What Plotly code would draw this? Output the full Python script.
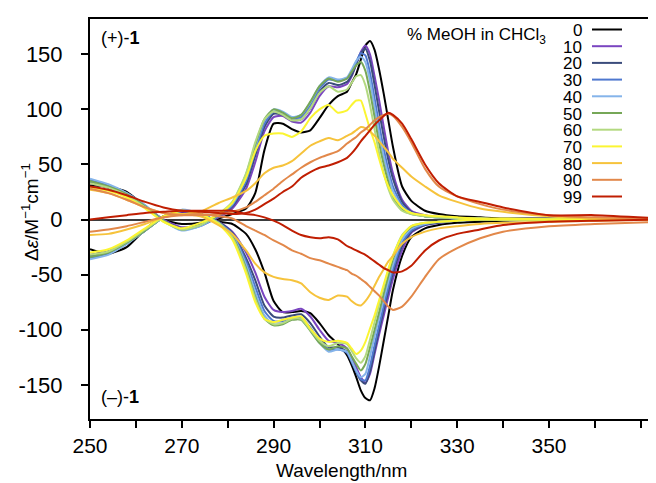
import plotly.graph_objects as go

# ---------------- data ----------------
wavelength = [250, 254, 258, 262, 266, 270, 274, 278, 281, 284, 286, 288, 290, 292, 294, 296, 298,
              300, 302, 304, 306, 307, 308, 309, 310, 311, 312, 313, 314, 315, 316, 318, 320,
              323, 326, 330, 335, 340, 350, 360, 374]

meoh_labels = ["0", "10", "20", "30", "40", "50", "60", "70", "80", "90", "99"]
meoh_colors = ["#000000", "#7a45c0", "#3b4c7c", "#4f78cf", "#85b4ea", "#76a757",
               "#b3d980", "#fbf532", "#f6c33c", "#e2884a", "#c01e02"]

# (+)-1 spectra
plus_0 = [31, 30, 25, 12, 0, -4, -3, 1, 5, 10, 24, 63, 87, 87, 82, 79, 81, 92, 104, 112,
          116, 124, 132, 145, 158, 162, 154, 136, 114, 90, 66, 30, 17, 8, 5, 3, 2, 1, 1, 0, 0]
plus_10 = [33, 29, 22, 12, 0, -7, -5, 2, 10, 28, 52, 80, 93, 94, 89, 88, 97, 112, 121, 120,
           123, 130, 141, 152, 158, 150, 130, 108, 84, 61, 42, 18, 8, 4, 2, 1, 1, 0, 0, 0, 0]
plus_20 = [34, 29, 22, 12, -1, -8, -5, 3, 12, 32, 58, 84, 96, 95, 90, 91, 101, 116, 124, 122,
           125, 131, 141, 151, 155, 144, 122, 98, 75, 54, 37, 16, 7, 3, 2, 1, 1, 0, 0, 0, 0]
plus_30 = [36, 31, 24, 13, -1, -9, -6, 3, 13, 35, 62, 87, 98, 97, 92, 93, 104, 119, 127, 126,
           128, 134, 143, 151, 149, 133, 110, 86, 64, 45, 30, 13, 6, 3, 2, 1, 1, 0, 0, 0, 0]
plus_40 = [37, 32, 24, 13, -1, -10, -6, 4, 14, 38, 66, 90, 100, 98, 93, 95, 106, 121, 129, 127,
           129, 136, 144, 148, 143, 126, 102, 78, 57, 40, 26, 11, 6, 3, 2, 1, 1, 0, 0, 0, 0]
plus_50 = [35, 30, 23, 12, -1, -9, -5, 4, 15, 41, 68, 91, 100, 97, 92, 95, 107, 121, 128, 125,
           128, 134, 140, 143, 135, 116, 93, 69, 50, 34, 20, 9, 5, 3, 2, 1, 1, 0, 0, 0, 0]
plus_60 = [33, 29, 22, 11, -2, -9, -5, 5, 16, 42, 70, 91, 98, 95, 90, 91, 101, 115, 121, 116,
           118, 124, 130, 131, 122, 104, 82, 60, 42, 28, 18, 8, 5, 3, 2, 1, 1, 0, 0, 0, 0]
plus_70 = [29, 26, 20, 10, -2, -8, -3, 5, 15, 38, 62, 76, 78, 78, 75, 80, 92, 100, 104, 97,
           99, 104, 108, 108, 96, 82, 70, 55, 41, 30, 22, 11, 6, 4, 3, 2, 1, 1, 0, 0, 0]
plus_80 = [27, 24, 18, 11, 6, 5, 7, 15, 20, 26, 33, 42, 47, 49, 53, 60, 67, 71, 74, 72,
           76, 78, 81, 84, 83, 80, 76, 71, 66, 61, 55, 47, 39, 30, 22, 16, 10, 7, 3, 1, 0]
plus_90 = [28, 24, 18, 11, 6, 4, 4, 5, 7, 11, 16, 22, 28, 35, 41, 47, 52, 56, 59, 62,
           69, 72, 75, 79, 82, 86, 90, 93, 95, 96, 94, 84, 70, 46, 30, 21, 14, 9, 4, 2, 1]
plus_99 = [30, 27, 22, 16, 11, 8, 7, 6, 5, 6, 9, 14, 19, 25, 30, 38, 43, 47, 49, 52,
           56, 60, 65, 71, 76, 81, 86, 90, 94, 97, 95, 87, 73, 50, 33, 21, 16, 11, 4, 4, 1]

# (-)-1 spectra
minus_0 = [-27, -31, -25, -9, 3, 6, 4, -2, -4, -13, -27, -48, -74, -84, -84, -83, -85, -94, -105, -113,
           -123, -132, -143, -155, -162, -164, -153, -133, -110, -87, -64, -33, -16, -8, -5, -3, -2, -1, 0, 0, 0]
minus_10 = [-32, -29, -21, -10, 2, 7, 5, -2, -11, -30, -48, -70, -82, -84, -83, -81, -88, -100, -110, -112,
            -117, -125, -134, -143, -148, -140, -122, -104, -87, -70, -54, -28, -12, -5, -3, -1, 0, 0, 0, 0, 0]
minus_20 = [-33, -29, -21, -10, 2, 8, 5, -2, -12, -35, -55, -78, -88, -89, -87, -86, -94, -106, -116, -116,
            -120, -128, -138, -146, -149, -138, -119, -100, -82, -65, -49, -24, -11, -5, -3, -1, 0, 0, 0, 0, 0]
minus_30 = [-35, -31, -22, -10, 2, 8, 5, -3, -13, -38, -61, -83, -92, -92, -89, -89, -98, -110, -118, -118,
            -121, -129, -138, -145, -146, -133, -114, -96, -78, -61, -45, -21, -10, -4, -2, -1, 0, 0, 0, 0, 0]
minus_40 = [-36, -32, -22, -10, 2, 9, 5, -3, -14, -41, -66, -87, -95, -94, -90, -90, -100, -112, -120, -118,
            -120, -128, -137, -143, -140, -124, -106, -89, -72, -56, -41, -18, -8, -4, -2, -1, 0, 0, 0, 0, 0]
minus_50 = [-34, -30, -21, -10, 2, 8, 5, -3, -15, -44, -70, -90, -96, -95, -91, -91, -101, -112, -118, -115,
            -117, -124, -131, -137, -131, -116, -100, -84, -67, -51, -36, -15, -7, -3, -2, -1, 0, 0, 0, 0, 0]
minus_60 = [-32, -29, -20, -9, 2, 8, 5, -3, -16, -46, -72, -90, -95, -94, -90, -90, -100, -110, -115, -112,
            -113, -119, -126, -130, -124, -109, -93, -77, -61, -46, -33, -14, -6, -3, -2, -1, 0, 0, 0, 0, 0]
minus_70 = [-30, -27, -19, -8, 3, 8, 5, -4, -18, -49, -75, -90, -93, -91, -89, -88, -99, -108, -111, -110,
            -112, -117, -122, -119, -111, -99, -87, -73, -59, -45, -33, -15, -6, -3, -2, -1, 0, 0, 0, 0, 0]
minus_80 = [-14, -13, -9, -4, 2, 5, 3, -5, -13, -28, -40, -48, -52, -54, -55, -58, -66, -71, -73, -69,
            -70, -74, -77, -78, -74, -68, -60, -52, -45, -38, -33, -22, -16, -11, -8, -6, -4, -3, -2, -1, 0]
minus_90 = [-11, -9, -6, -2, 2, 4, 5, 3, 1, -6, -10, -14, -19, -23, -28, -31, -35, -37, -40, -43,
            -46, -49, -51, -54, -57, -61, -65, -69, -74, -79, -82, -79, -70, -52, -36, -26, -17, -11, -6, -4, -2]
minus_99 = [0, 2, 4, 6, 7, 8, 8, 8, 8, 5, 4, 2, -1, -5, -10, -14, -16, -17, -16, -18,
            -24, -26, -28, -30, -32, -35, -38, -41, -44, -46, -48, -47, -42, -28, -19, -13, -9, -5, -2, -1, 0]

plus_series = [plus_0, plus_10, plus_20, plus_30, plus_40, plus_50, plus_60, plus_70, plus_80, plus_90, plus_99]
minus_series = [minus_0, minus_10, minus_20, minus_30, minus_40, minus_50, minus_60, minus_70, minus_80, minus_90, minus_99]

x_tick_vals = [250, 270, 290, 310, 330, 350]
x_tick_text = ["250", "270", "290", "310", "330", "350"]
y_tick_vals = [-150, -100, -50, 0, 50, 100, 150]
y_tick_text = ["-150", "-100", "-50", "0", "50", "100", "150"]

# ---------------- layout geometry ----------------
# The page body has an 8 px margin, so the figure is made 8 px smaller and all
# positions below are given in window pixels and shifted by that offset.
OFF = 8
W, H = 656 - OFF, 483 - OFF
ML, MR, MT, MB = 90 - OFF, 0, 19 - OFF, 64
PW, PH = W - ML - MR, H - MT - MB
FONT = "Liberation Sans, Arial, Helvetica, sans-serif"


def px(xp):
    return (xp - OFF - ML) / PW


def py(yp):
    return (H - MB - (yp - OFF)) / PH


fig = go.Figure()
for lab, col, yp, yn in zip(meoh_labels, meoh_colors, plus_series, minus_series):
    for ys in (yp, yn):
        fig.add_trace(go.Scatter(x=wavelength, y=ys, mode="lines", name=lab + "% MeOH",
                                 line=dict(color=col, width=2, shape="spline", smoothing=0.6),
                                 showlegend=False, hoverinfo="skip"))

annotations = [
    dict(text="(+)-<b>1</b>", x=px(99), y=py(38), xref="paper", yref="paper",
         xanchor="left", yanchor="middle", showarrow=False, font=dict(size=18, color="black")),
    dict(text="(–)-<b>1</b>", x=px(99), y=py(397), xref="paper", yref="paper",
         xanchor="left", yanchor="middle", showarrow=False, font=dict(size=18, color="black")),
    dict(text="% MeOH in CHCl<sub>3</sub>", x=px(405), y=py(36), xref="paper", yref="paper",
         xanchor="left", yanchor="middle", showarrow=False, font=dict(size=17, color="black")),
    dict(text="Wavelength/nm", x=px(341), y=py(470), xref="paper", yref="paper",
         xanchor="center", yanchor="middle", showarrow=False, font=dict(size=19, color="black")),
    dict(text="Δ<i>ε</i>/M<sup>−1</sup>cm<sup>−1</sup>", x=px(30), y=py(212), xref="paper", yref="paper",
         xanchor="center", yanchor="middle", textangle=-90, showarrow=False,
         font=dict(size=19, color="black")),
]
shapes = []
for i, (lab, col) in enumerate(zip(meoh_labels, meoh_colors)):
    yc = 29.5 + i * 16.7
    annotations.append(dict(text=lab, x=px(584), y=py(yc + 1), xref="paper", yref="paper",
                            xanchor="right", yanchor="middle", showarrow=False,
                            font=dict(size=17, color="black")))
    shapes.append(dict(type="line", xref="paper", yref="paper", x0=px(592), x1=px(622),
                       y0=py(yc), y1=py(yc), line=dict(color=col, width=2)))

fig.update_layout(
    width=W, height=H,
    margin=dict(l=ML, r=MR, t=MT, b=MB),
    paper_bgcolor="white", plot_bgcolor="white",
    font=dict(family=FONT, size=20, color="black"),
    annotations=annotations, shapes=shapes,
    showlegend=False,
)
fig.update_xaxes(range=[250, 250 + PW / 4.59], tickvals=x_tick_vals, ticktext=x_tick_text,
                 ticks="outside", ticklen=7, tickwidth=1.5, tickcolor="black",
                 minor=dict(ticks="outside", dtick=10, tick0=250, ticklen=7, tickwidth=1.5, tickcolor="black"),
                 showline=True, linecolor="black", linewidth=2, mirror=True,
                 showgrid=False, zeroline=False, tickfont=dict(size=21), automargin=False)
fig.update_yaxes(range=[-181, 182], tickvals=y_tick_vals, ticktext=y_tick_text,
                 ticks="outside", ticklen=7, tickwidth=1.5, tickcolor="black",
                 showline=True, linecolor="black", linewidth=2, mirror=False,
                 showgrid=False, zeroline=True, zerolinecolor="#3c3c3c", zerolinewidth=2,
                 tickfont=dict(size=22), ticklabelstandoff=14, automargin=False)

fig.write_html("out.html")
